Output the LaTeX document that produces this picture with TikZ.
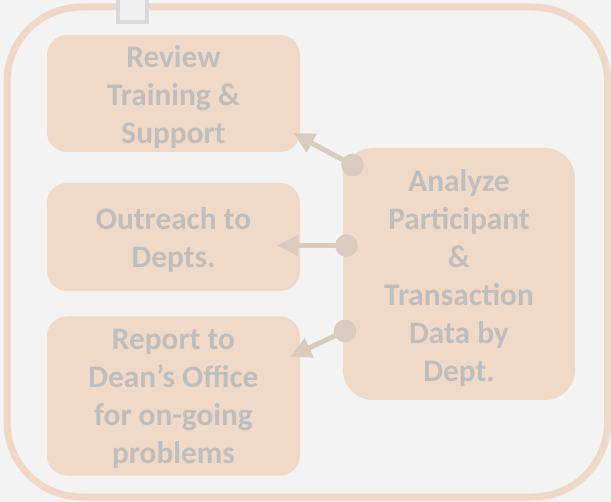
\documentclass[tikz,border=0pt]{standalone}
\usepackage{fontspec}
\setmainfont{Carlito}
\usetikzlibrary{arrows.meta}
\definecolor{bgGray}{RGB}{243,243,243}
\definecolor{peachFill}{RGB}{241,217,200}
\definecolor{peachLine}{RGB}{240,216,200}
\definecolor{txtGray}{RGB}{190,190,190}
\definecolor{linkTan}{RGB}{217,203,190}
\definecolor{tabGray}{RGB}{217,217,217}

\begin{document}
\begin{tikzpicture}[x=0.75pt,y=0.75pt,yscale=-1,xscale=1,
  task/.style={fill=peachFill, rounded corners=15pt, inner sep=0pt},
  tasktext/.style={text=txtGray, align=center, inner sep=0pt,
    font=\bfseries\fontsize{23.5}{28.5}\selectfont},
  link/.style={draw=linkTan, line width=3.75pt, -{Triangle[length=16pt,width=15pt]}},
  dot/.style={circle, fill=linkTan, minimum size=17pt, inner sep=0pt}]

%Background
\fill [bgGray] (0,0) rectangle (611,502);
\useasboundingbox (0,0) rectangle (611,502);
%Outer frame
\draw [peachLine, line width=5.25pt, rounded corners=56pt] (7,7) rectangle (607.5,497);
%Small tab
\draw [tabGray, fill={rgb,255:red,240;green,240;blue,240}, line width=3pt] (117.5,-6) rectangle (146.5,22);

% Task boxes
\node [task, minimum width=189.75pt, minimum height=87.75pt] (review) at (173.5,93.5) {};
\node [tasktext] (reviewtxt) at (173.5,96.5) {Review\\Training \&\\Support};
\node [task, minimum width=189.75pt, minimum height=81pt] (outreach) at (173.5,237) {};
\node [tasktext] (outreachtxt) at (173.5,240) {Outreach to\\Depts.};
\node [task, minimum width=189.75pt, minimum height=119.25pt] (report) at (173.5,396) {};
\node [tasktext] (reporttxt) at (173.5,399) {Report to\\Dean’s Office\\for on-going\\problems};
\node [task, rounded corners=22.5pt, minimum width=174pt, minimum height=189pt] (analyze) at (459,274) {};
\node [tasktext] (analyzetxt) at (459,278) {Analyze\\Participant\\\&\\Transaction\\Data by\\Dept.};

% Connector ends
\coordinate (d1) at (352.5,165);
\coordinate (d2) at (346.5,245.5);
\coordinate (d3) at (345,331);
\coordinate (t1) at (293,133);
\coordinate (t2) at (277,245.5);
\coordinate (t3) at (290,357);

% Connectors
\draw [link] (d1) -- (t1);
\draw [link] (d2) -- (t2);
\draw [link] (d3) -- (t3);
\node [dot] (dot1) at (d1) {};
\node [dot] (dot2) at (d2) {};
\node [dot] (dot3) at (d3) {};

\end{tikzpicture}
\end{document}
